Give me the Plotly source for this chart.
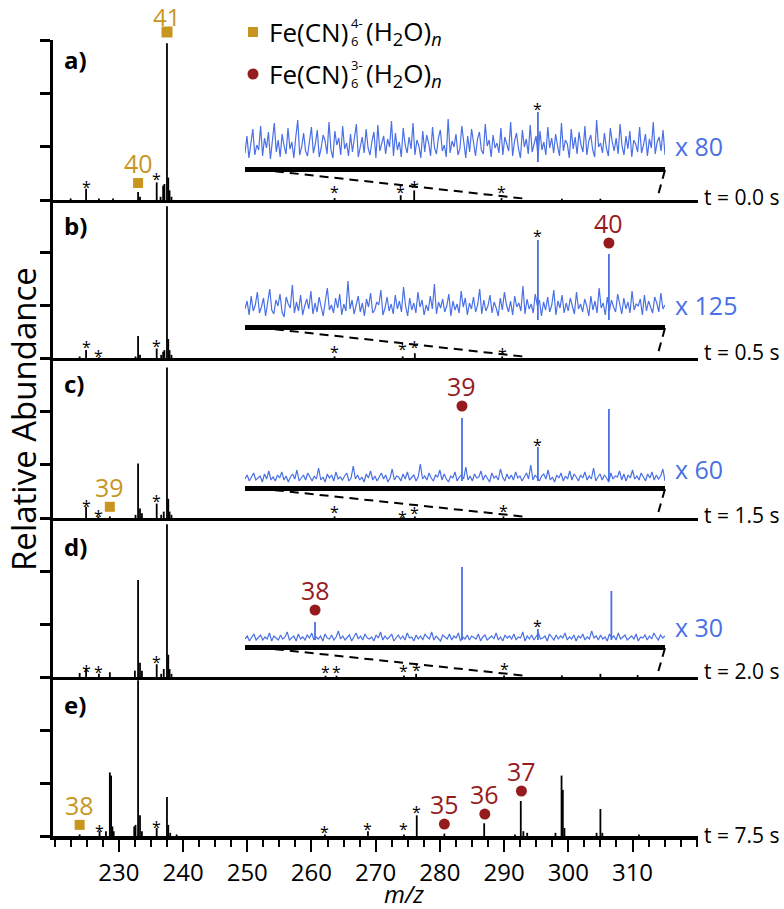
import numpy as np
import plotly.graph_objects as go

# ---------------- data ----------------
panel_names = ["a)", "b)", "c)", "d)", "e)"]
time_labels = ["t = 0.0 s", "t = 0.5 s", "t = 1.5 s", "t = 2.0 s", "t = 7.5 s"]
scale_labels = ["x 80", "x 125", "x 60", "x 30"]
x_tick_vals = [230, 240, 250, 260, 270, 280, 290, 300, 310]

mz_a = [222.5, 224.9, 226.9, 229.1, 233.0, 233.3, 235.9, 236.5, 236.9, 237.1, 237.5, 237.7, 237.9, 238.2, 263.6, 273.9, 276.0, 289.6, 299.0, 305.0]
ab_a = [0.01, 0.07, 0.01, 0.01, 0.05, 0.02, 0.11, 0.02, 0.09, 0.10, 0.98, 0.14, 0.06, 0.02, 0.012, 0.03, 0.06, 0.012, 0.008, 0.008]
mz_b = [223.9, 224.9, 226.9, 232.6, 233.0, 233.3, 235.9, 236.6, 236.9, 237.1, 237.5, 237.7, 237.9, 238.2, 263.6, 274.2, 276.1, 289.7]
ab_b = [0.01, 0.05, 0.005, 0.01, 0.14, 0.02, 0.06, 0.02, 0.04, 0.05, 0.96, 0.12, 0.05, 0.02, 0.01, 0.01, 0.03, 0.01]
mz_c = [224.9, 226.8, 228.6, 232.6, 233.0, 233.3, 233.6, 235.9, 236.6, 237.0, 237.5, 237.7, 237.9, 238.2, 263.6, 274.2, 276.1, 289.9]
ab_c = [0.07, 0.01, 0.01, 0.02, 0.34, 0.06, 0.03, 0.09, 0.02, 0.04, 0.94, 0.12, 0.04, 0.02, 0.01, 0.005, 0.01, 0.01]
mz_d = [223.9, 224.9, 226.9, 228.6, 232.5, 233.0, 233.3, 233.6, 235.9, 236.6, 237.0, 237.5, 237.7, 237.9, 238.2, 262.2, 263.9, 274.4, 276.3, 290.0, 299.0, 305.0, 310.8]
ab_d = [0.025, 0.05, 0.02, 0.03, 0.04, 0.61, 0.09, 0.04, 0.08, 0.02, 0.05, 0.96, 0.14, 0.05, 0.02, 0.008, 0.008, 0.01, 0.02, 0.01, 0.01, 0.02, 0.012]
mz_e = [223.9, 227.0, 228.0, 228.6, 228.8, 229.0, 229.2, 232.4, 232.6, 233.0, 233.3, 233.6, 235.9, 237.5, 237.7, 238.0, 239.0, 262.1, 268.8, 274.4, 276.4, 280.7, 286.9, 291.7, 292.6, 293.0, 293.6, 298.0, 298.95, 299.15, 299.4, 304.4, 305.0, 305.3, 311.0]
ab_e = [0.01, 0.03, 0.03, 0.40, 0.38, 0.06, 0.03, 0.06, 0.07, 0.98, 0.13, 0.03, 0.05, 0.245, 0.07, 0.02, 0.01, 0.01, 0.03, 0.01, 0.13, 0.015, 0.08, 0.01, 0.22, 0.03, 0.02, 0.02, 0.38, 0.29, 0.05, 0.02, 0.17, 0.02, 0.01]
spectra_mz = [mz_a, mz_b, mz_c, mz_d, mz_e]
spectra_ab = [ab_a, ab_b, ab_c, ab_d, ab_e]

# asterisk (contaminant) labels: m/z and height (fraction of panel)
star_mz = [[224.9, 235.9, 263.6, 273.9, 276.0, 289.6],
           [224.9, 226.9, 235.9, 263.6, 274.2, 276.1, 289.7],
           [224.9, 226.8, 235.9, 263.6, 274.2, 276.1, 289.9],
           [224.9, 226.9, 235.9, 262.2, 263.9, 274.4, 276.3, 290.0],
           [227.0, 235.9, 262.1, 268.8, 274.4, 276.4]]
star_y = [[0.106, 0.156, 0.075, 0.075, 0.106, 0.075],
          [0.095, 0.038, 0.1, 0.063, 0.082, 0.095, 0.05],
          [0.1, 0.0375, 0.131, 0.0625, 0.031, 0.056, 0.069],
          [0.063, 0.057, 0.12, 0.057, 0.057, 0.063, 0.069, 0.075],
          [0.057, 0.082, 0.05, 0.069, 0.069, 0.176]]

# Fe(CN)6 4- (H2O)n  (squares)
sq_n = ["41", "40", "39", "38"]
sq_panel = [0, 0, 2, 4]
sq_mz = [237.5, 233.0, 228.6, 223.9]
sq_y = [1.05, 0.106, 0.07, 0.07]
# Fe(CN)6 3- (H2O)n  in main panel e (circles)
ci_n = ["35", "36", "37"]
ci_mz = [280.7, 287.0, 292.7]
ci_y = [0.075, 0.138, 0.283]

# insets (magnified 295.7-312.9)
inset_range = [295.74, 312.89]
noise_a = [14,31,9,26,38,12,22,17,41,11,29,19,35,8,24,44,15,27,10,33,21,13,39,18,25,9,30,47,12,20,34,16,11,28,40,14,23,37,10,19,32,26,13,45,17,9,36,22,29,12,41,18,24,11,33,15,27,43,10,21,30,14,38,19,12,26,35,9,42,16,23,31,13,28,20,46,11,34,17,25,10,39,22,14,30,18,44,12,27,21,9,36,15,32,24,11,40,19,13,29,37,16,22,10,48,14,26,20,33,12,18,41,25,9,31,15,38,23,11,28,35,17,13,43,21,27,10,32,19,24,14,39,12,30,22,16,45,11,26,34,18,9,37,20,28,13,42,15,23,31,10,36,17,25,12,40,19,29,14,33,21,11,44,16,27,23,9,38,18,30,13,35,22,15,41,12,26,32,17,10,47,20,24,14,34,19,11,39,25,16,29,13,43,21,12,31,18,36,10,27,23,15,40,14,22,33,11,28,19,45,13,25,30,16,37,12]
noise_b = [16,24,10,29,14,20,33,12,18,27,9,22,36,15,11,25,19,31,13,8,28,21,17,40,12,23,14,30,10,19,26,16,34,11,22,13,28,18,9,24,37,15,20,12,27,17,31,10,21,14,44,16,25,11,19,29,13,22,9,26,18,32,12,15,23,20,35,10,17,28,14,21,11,30,16,24,13,38,19,9,27,15,22,12,33,18,25,10,20,14,29,16,41,11,23,17,26,13,19,31,9,24,15,21,12,34,18,27,10,22,16,28,13,20,36,11,25,14,19,30,12,23,17,9,27,15,33,20,13,24,10,29,18,22,14,39,11,26,16,21,12,31,19,25,9,23,15,28,13,20,35,10,24,17,30,12,22,14,27,18,11,33,16,21,13,26,19,9,29,15,24,12,37,17,22,10,28,14,25,18,13,31,20,11,27,16,23,12,34,15,21,19,26,10,30,14,24,17,12,28,22,13,32,16,20]
noise_c = [7,11,5,9,13,6,8,10,4,12,7,15,6,9,5,11,8,14,6,10,4,9,12,7,16,5,8,11,6,13,9,5,10,7,18,6,9,4,12,8,11,5,14,7,9,6,10,13,5,8,20,7,11,6,9,4,12,8,15,6,10,5,9,13,7,11,4,8,17,6,10,9,5,12,7,14,6,8,11,5,9,22,7,10,6,13,8,5,11,9,16,6,12,7,4,10,8,14,5,9,11,7,19,6,10,5,12,8,9,15,6,11,7,4,13,8,10,6,17,9,5,12,7,11,6,14,8,10,5,9,13,7,21,6,11,8,5,10,12,7,16,6,9,4,11,8,13,5,10,7,15,6,12,9,5,11,8,14,6,10,7,18,5,9,12,6,11,8,4,13,7,10,9,15,6,12,5,11,8,16,7,10,6,13,9,5,12,8,14,6,11,7,10,17,5]
noise_d = [6,9,4,8,11,5,7,10,5,8,6,12,4,9,7,5,10,6,8,13,5,7,9,4,11,6,8,5,10,7,12,5,8,6,9,4,11,7,6,10,5,8,14,6,9,5,7,10,4,8,12,6,9,5,11,7,6,8,4,10,7,13,5,9,6,8,11,4,7,10,6,9,5,12,7,8,4,10,6,9,5,11,8,6,13,5,9,7,4,10,8,6,11,5,9,7,12,4,8,6,10,5,9,7,6,11,4,8,10,5,7,9,6,12,5,8,4,10,7,9,6,11,5,8,7,13,4,9,6,10,5,8,12,6,7,9,4,11,8,5,10,6,9,7,12,5,8,6,10,4,9,7,11,5,8,6,14,7,9,5,10,6,8,4,11,7,9,5,12,6,8,10,5,7,9,6,11,4,8,7,10,5,9,6,12,8,5,10,7,9]
inset_noise = [noise_a, noise_b, noise_c, noise_d]
inset_peak_mz = [[307.7], [307.7, 310.6], [304.6, 307.7, 310.6], [298.6, 304.6, 307.7, 310.7]]
inset_peak_ab = [[55], [85, 71], [68, 39, 77], [23, 78, 16, 54]]
inset_star_mz = [307.7, 307.7, 307.7, 307.7]
inset_star_y = [62, 93, 45, 23]
inset_ci_panel = [1, 2, 3]
inset_ci_n = ["40", "39", "38"]
inset_ci_mz = [310.6, 304.6, 298.6]
inset_ci_y = [82, 80, 35]

# ---------------- layout geometry (reference pixels) ----------------
W, H = 784, 909
L, R, T, B = 53, 698, 40, 836
XR = [219.75, 320.2]
base_px = [200, 358, 518, 677, 836]
top_px = [40, 200, 358, 518, 677]
inset_base_px = [167, 325, 486, 645]
inset_x_px = [245, 665]

GOLD = "#C8961E"
RED = "#961B1E"
BLUE = "#4A70E6"
FONT = "Open Sans"


def px_x(px):
    return (px - L) / (R - L)


def px_y(py):
    return (B - py) / (B - T)


fig = go.Figure()
layout = dict(width=W, height=H, margin=dict(l=L, r=W - R, t=T, b=H - B, pad=0),
              plot_bgcolor="white", paper_bgcolor="white", showlegend=False,
              font=dict(family=FONT, color="black"))
annotations = []
shapes = []


def ax(kind, i):
    return kind if i == 1 else f"{kind}{i}"


# main panels
for i in range(5):
    k = i + 1
    xs, ys = [], []
    for m, h in zip(spectra_mz[i], spectra_ab[i]):
        xs += [m, m, None]
        ys += [0, h, None]
    fig.add_trace(go.Scatter(x=xs, y=ys, mode="lines", line=dict(color="black", width=1.8),
                             xaxis=ax("x", k), yaxis=ax("y", k), hoverinfo="skip"))
    xa = dict(domain=[0, 1], range=XR, anchor=ax("y", k), showgrid=False, zeroline=False,
              showline=True, linecolor="black", linewidth=2.5, fixedrange=True)
    if i == 4:
        xa.update(linewidth=3.5, tickmode="array", tickvals=x_tick_vals, ticks="outside", ticklen=12,
                  tickwidth=2, tickcolor="black", tickfont=dict(size=24, family=FONT, color="black"),
                  minor=dict(tickmode="linear", tick0=220, dtick=2.5, ticks="outside", ticklen=7,
                             tickwidth=1.5, tickcolor="black"))
    else:
        xa.update(showticklabels=False, ticks="")
    layout[ax("xaxis", k)] = xa
    layout[ax("yaxis", k)] = dict(domain=[px_y(base_px[i]), px_y(top_px[i])], range=[0, 1],
                                  anchor=ax("x", k), showgrid=False, zeroline=False, showline=True,
                                  linecolor="black", linewidth=3, ticks="outside", ticklen=10,
                                  tickwidth=2.5, tickcolor="black", tickmode="array",
                                  tickvals=[0, 1 / 3, 2 / 3, 1], showticklabels=False, fixedrange=True)
    for m, yv in zip(star_mz[i], star_y[i]):
        annotations.append(dict(x=m, y=yv, xref=ax("x", k), yref=ax("y", k), text="*", showarrow=False,
                                font=dict(size=16, color="black"), yshift=-4))
    annotations.append(dict(x=px_x(62), y=px_y([59, 226, 383, 546, 704][i]), xref="paper", yref="paper",
                            text=f"<b>{panel_names[i]}</b>", showarrow=False, xanchor="left",
                            yanchor="middle", font=dict(size=24, color="black")))
    annotations.append(dict(x=px_x(702), y=px_y([197, 352, 515, 671, 835][i]), xref="paper", yref="paper",
                            text=time_labels[i], showarrow=False, xanchor="left", yanchor="middle",
                            font=dict(size=21, color="black")))

# squares (4- series); labels above the axis top are anchored at the top edge and shifted up
for n, p, m, yv in zip(sq_n, sq_panel, sq_mz, sq_y):
    k = p + 1
    ph = base_px[p] - top_px[p]
    if yv <= 1:
        fig.add_trace(go.Scatter(x=[m], y=[yv], mode="markers", xaxis=ax("x", k), yaxis=ax("y", k),
                                 marker=dict(symbol="square", size=10, color=GOLD), cliponaxis=False,
                                 hoverinfo="skip"))
        annotations.append(dict(x=m, y=yv, xref=ax("x", k), yref=ax("y", k), text=n, showarrow=False,
                                yshift=20, font=dict(size=25, color=GOLD)))
    else:
        extra = (yv - 1) * ph
        annotations.append(dict(x=m, y=1, xref=ax("x", k), yref=ax("y", k), text="", showarrow=False,
                                width=10, height=10, bgcolor=GOLD, borderpad=0, yshift=extra,
                                font=dict(size=8)))
        annotations.append(dict(x=m, y=1, xref=ax("x", k), yref=ax("y", k), text=n, showarrow=False,
                                yshift=extra + 15.5, font=dict(size=24, color=GOLD)))
# circles in panel e (3- series)
for n, m, yv in zip(ci_n, ci_mz, ci_y):
    fig.add_trace(go.Scatter(x=[m], y=[yv], mode="markers", xaxis="x5", yaxis="y5",
                             marker=dict(symbol="circle", size=11, color=RED), cliponaxis=False,
                             hoverinfo="skip"))
    annotations.append(dict(x=m, y=yv, xref="x5", yref="y5", text=n, showarrow=False,
                            yshift=20, font=dict(size=25, color=RED)))

# insets
for j in range(4):
    k = 6 + j
    nz = inset_noise[j]
    xg = np.linspace(inset_range[0], inset_range[1], len(nz))
    fig.add_trace(go.Scatter(x=xg, y=nz, mode="lines", line=dict(color=BLUE, width=1.2),
                             xaxis=f"x{k}", yaxis=f"y{k}", hoverinfo="skip"))
    px_, py_ = [], []
    for m, h in zip(inset_peak_mz[j], inset_peak_ab[j]):
        px_ += [m, m, None]
        py_ += [5, h, None]
    fig.add_trace(go.Scatter(x=px_, y=py_, mode="lines", line=dict(color=BLUE, width=1.8),
                             xaxis=f"x{k}", yaxis=f"y{k}", hoverinfo="skip", cliponaxis=False))
    layout[f"xaxis{k}"] = dict(domain=[px_x(inset_x_px[0]), px_x(inset_x_px[1])], range=inset_range,
                               anchor=f"y{k}", showgrid=False, zeroline=False, showline=True,
                               linecolor="black", linewidth=5, ticks="", showticklabels=False,
                               fixedrange=True)
    b = inset_base_px[j]
    layout[f"yaxis{k}"] = dict(domain=[px_y(b), px_y(b - 100)], range=[0, 100], anchor=f"x{k}",
                               visible=False, fixedrange=True)
    annotations.append(dict(x=inset_star_mz[j], y=inset_star_y[j], xref=f"x{k}", yref=f"y{k}", text="*",
                            showarrow=False, font=dict(size=16, color="black"), yshift=-4))
    annotations.append(dict(x=px_x(673), y=px_y([146, 305, 469, 627][j]), xref="paper", yref="paper",
                            text=scale_labels[j], showarrow=False, xanchor="left", yanchor="middle",
                            font=dict(size=25, color=BLUE)))
    pb = base_px[j]
    shapes.append(dict(type="line", xref="paper", yref="paper", x0=px_x(245), y0=px_y(b + 1),
                       x1=px_x(528), y1=px_y(pb - 1), line=dict(color="black", width=2, dash="9px,6px")))
    shapes.append(dict(type="line", xref="paper", yref="paper", x0=px_x(665), y0=px_y(b + 3),
                       x1=px_x(657), y1=px_y(pb - 1), line=dict(color="black", width=2, dash="9px,6px")))

for j, n, m, yv in zip(inset_ci_panel, inset_ci_n, inset_ci_mz, inset_ci_y):
    k = 6 + j
    fig.add_trace(go.Scatter(x=[m], y=[yv], mode="markers", xaxis=f"x{k}", yaxis=f"y{k}",
                             marker=dict(symbol="circle", size=11, color=RED), cliponaxis=False,
                             hoverinfo="skip"))
    annotations.append(dict(x=m, y=yv, xref=f"x{k}", yref=f"y{k}", text=n, showarrow=False,
                            yshift=20, font=dict(size=25, color=RED)))

# legend (manual)
shapes.append(dict(type="rect", xref="paper", yref="paper", x0=px_x(248), x1=px_x(258), y0=px_y(37),
                   y1=px_y(27), fillcolor=GOLD, line=dict(width=0)))
shapes.append(dict(type="circle", xref="paper", yref="paper", x0=px_x(247.5), x1=px_x(258.5),
                   y0=px_y(79.5), y1=px_y(68.5), fillcolor=RED, line=dict(width=0)))
for yc, chg in [(32, "4-"), (74, "3-")]:
    annotations.append(dict(x=px_x(267), y=px_y(yc), xref="paper", yref="paper", text="Fe(CN)",
                            showarrow=False, xanchor="left", yanchor="middle", font=dict(size=26)))
    annotations.append(dict(x=px_x(349), y=px_y(yc - 8.7), xref="paper", yref="paper", text=chg,
                            showarrow=False, xanchor="left", yanchor="middle", font=dict(size=13)))
    annotations.append(dict(x=px_x(349), y=px_y(yc + 9.2), xref="paper", yref="paper", text="6",
                            showarrow=False, xanchor="left", yanchor="middle", font=dict(size=13)))
    annotations.append(dict(x=px_x(364), y=px_y(yc), xref="paper", yref="paper",
                            text="(H<sub>2</sub>O)<sub><i>n</i></sub>",
                            showarrow=False, xanchor="left", yanchor="middle", font=dict(size=26)))

# axis titles
annotations.append(dict(x=px_x(23), y=px_y(419), xref="paper", yref="paper", text="Relative Abundance",
                        textangle=-90, showarrow=False, xanchor="center", yanchor="middle",
                        font=dict(size=33)))
annotations.append(dict(x=px_x(404), y=px_y(893), xref="paper", yref="paper", text="<i>m/z</i>",
                        showarrow=False, xanchor="center", yanchor="middle", font=dict(size=24)))

layout["annotations"] = annotations
layout["shapes"] = shapes
fig.update_layout(**layout)
fig.write_html("out.html", config={"displayModeBar": False},
               post_script="document.body.style.margin='0px';")
